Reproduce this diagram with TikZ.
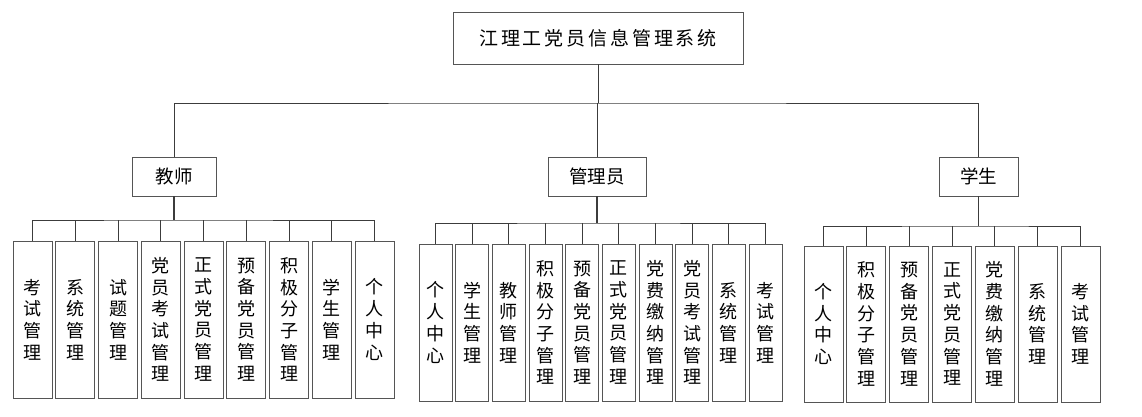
\documentclass[tikz,border=0pt]{standalone}
\usepackage{fontspec}
\setmainfont{Noto Sans CJK SC}
\newfontfamily\titlefont[LetterSpace=15]{Noto Sans CJK SC}
\usepackage{tikz}
\usetikzlibrary{calc}
\usetikzlibrary{positioning}
\definecolor{linegray}{HTML}{3C3C3C}
\definecolor{boxgray}{HTML}{555555}

\begin{document}
\begin{tikzpicture}[x=1pt,y=-1pt,
    box/.style={draw=boxgray, line width=0.9pt, inner sep=0pt, align=center, fill=white},
    leaf/.style={box, minimum width=#1, minimum height=157pt, font=\fontsize{18}{21.7}\selectfont},
    leaf/.default={39pt},
    link/.style={draw=linegray, line width=0.75pt},
    trunk/.style={draw=linegray, line width=1.6pt}]
    \useasboundingbox (0,0) rectangle (1142,416);

    % top level
    \node[box, minimum width=290pt, minimum height=52pt, font=\fontsize{19}{22}\titlefont] (sys) at (598,38) {江理工党员信息管理系统};
    \node[box, minimum width=84pt, minimum height=39pt, font=\fontsize{18.5}{22}\selectfont] (teacher) at (174,176.5) {教师};
    \node[box, minimum width=98pt, minimum height=39pt, font=\fontsize{18.5}{22}\selectfont] (admin) at (597,176.5) {管理员};
    \node[box, minimum width=79pt, minimum height=39pt, font=\fontsize{18.5}{22}\selectfont] (student) at (978.5,176.5) {学生};

    \coordinate (topbus) at (598,103);
    \draw[link] (sys.south) -- (topbus);
    \draw[link] (teacher.north) |- (topbus) -| (student.north);
    \draw[link] (admin.north) -- (admin.north |- topbus);

    % teacher
    \foreach \i/\lab in {1/{考\\试\\管\\理}, 2/{系\\统\\管\\理}, 3/{试\\题\\管\\理},
        4/{党\\员\\考\\试\\管\\理}, 5/{正\\式\\党\\员\\管\\理}, 6/{预\\备\\党\\员\\管\\理},
        7/{积\\极\\分\\子\\管\\理}, 8/{学\\生\\管\\理}, 9/{个\\人\\中\\心}} {
    \node[leaf] (t\i) at ({32.5+42.75*(\i-1)},319.5) {\lab};
    }
    \coordinate (tbus) at (174,220);
    \draw[trunk] (teacher.south) -- (tbus);
    \draw[link] (t1.north) |- (tbus) -| (t9.north);
    \foreach \i in {2,...,8} {\draw[link] (t\i.north) -- (t\i.north |- tbus);}

    % admin
    \foreach \i/\lab in {1/{个\\人\\中\\心}, 2/{学\\生\\管\\理}, 3/{教\\师\\管\\理},
        4/{积\\极\\分\\子\\管\\理}, 5/{预\\备\\党\\员\\管\\理}, 6/{正\\式\\党\\员\\管\\理},
        7/{党\\费\\缴\\纳\\管\\理}, 8/{党\\员\\考\\试\\管\\理}, 9/{系\\统\\管\\理}, 10/{考\\试\\管\\理}} {
    \node[leaf=33pt] (a\i) at ({435.5+36.67*(\i-1)},322.5) {\lab};
    }
    \coordinate (abus) at (597,223);
    \draw[trunk] (admin.south) -- (abus);
    \draw[link] (a1.north) |- (abus) -| (a10.north);
    \foreach \i in {2,...,9} {\draw[link] (a\i.north) -- (a\i.north |- abus);}

    % student
    \foreach \i/\lab in {1/{个\\人\\中\\心}, 2/{积\\极\\分\\子\\管\\理}, 3/{预\\备\\党\\员\\管\\理},
        4/{正\\式\\党\\员\\管\\理}, 5/{党\\费\\缴\\纳\\管\\理}, 6/{系\\统\\管\\理}, 7/{考\\试\\管\\理}} {
    \node[leaf, minimum height=156pt] (s\i) at ({823.5+42.83*(\i-1)},324) {\lab};
    }
    \coordinate (sbus) at (978.5,226);
    \draw[trunk] (student.south) -- (sbus);
    \draw[link] (s1.north) |- (sbus) -| (s7.north);
    \foreach \i in {2,...,6} {\draw[link] (s\i.north) -- (s\i.north |- sbus);}
\end{tikzpicture}
\end{document}
